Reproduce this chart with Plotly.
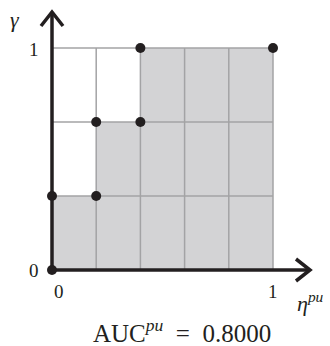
import plotly.graph_objects as go

# ROC-like step curve vertices
eta = [0, 0, 0.2, 0.2, 0.4, 0.4, 1.0]
gamma = [0, 1/3, 1/3, 2/3, 2/3, 1.0, 1.0]
grid_x = [0.2, 0.4, 0.6, 0.8, 1.0]
grid_y = [1/3, 2/3, 1.0]
auc_value = 0.8000

W, H = 330, 346
# pixel mapping: x 0->52, 1->273 ; y 0->270, 1->48
sx, sy = 221.0, 222.0

dark = "#231f20"
gridc = "#a3a3a5"
fillc = "#d3d3d5"
font = "Liberation Serif"

fig = go.Figure()

# filled area under the step curve
fig.add_trace(go.Scatter(x=eta, y=gamma, mode="lines", line=dict(width=0, color=fillc),
                         fill="tozeroy", fillcolor=fillc, hoverinfo="skip"))

# grid lines
for gx in grid_x:
    fig.add_trace(go.Scatter(x=[gx, gx], y=[0, 1], mode="lines",
                             line=dict(color=gridc, width=1.5), hoverinfo="skip"))
for gy in grid_y:
    fig.add_trace(go.Scatter(x=[0, 1], y=[gy, gy], mode="lines",
                             line=dict(color=gridc, width=1.5), hoverinfo="skip"))

# axes with arrows (decoration)
ax_tip_y = (270 - 12) / sy
ax_tip_x = (310 - 52) / sx
along, perp = 14, 11
fig.add_trace(go.Scatter(x=[0, 0], y=[0, ax_tip_y], mode="lines",
                         line=dict(color=dark, width=3.5), hoverinfo="skip"))
fig.add_trace(go.Scatter(x=[-perp / sx, 0, perp / sx],
                         y=[ax_tip_y - along / sy, ax_tip_y, ax_tip_y - along / sy],
                         mode="lines", line=dict(color=dark, width=3.5), hoverinfo="skip"))
fig.add_trace(go.Scatter(x=[0, ax_tip_x], y=[0, 0], mode="lines",
                         line=dict(color=dark, width=3.5), hoverinfo="skip"))
fig.add_trace(go.Scatter(x=[ax_tip_x - along / sx, ax_tip_x, ax_tip_x - along / sx],
                         y=[perp / sy, 0, -perp / sy],
                         mode="lines", line=dict(color=dark, width=3.5), hoverinfo="skip"))

# vertex markers
fig.add_trace(go.Scatter(x=eta, y=gamma, mode="markers",
                         marker=dict(color=dark, size=10), hoverinfo="skip"))

def px2x(p):
    return (p - 52) / sx

def py2y(p):
    return (270 - p) / sy

nb = "&nbsp;"
ann = [
    dict(x=px2x(15), y=py2y(19), text="<i>γ</i>", size=22, xa="center"),
    dict(x=px2x(34), y=py2y(49), text="1", size=19, xa="center"),
    dict(x=px2x(34), y=py2y(270), text="0", size=19, xa="center"),
    dict(x=px2x(59), y=py2y(291), text="0", size=19, xa="center"),
    dict(x=px2x(273), y=py2y(291), text="1", size=19, xa="center"),
    dict(x=px2x(295), y=py2y(302), text="<i>η</i><sup><i>pu</i></sup>", size=22, xa="left"),
    dict(x=px2x(182), y=py2y(331),
         text="AUC<sup><i>pu</i></sup>" + nb * 2 + "=" + nb * 2 + "%.4f" % auc_value,
         size=25, xa="center"),
]
for a in ann:
    fig.add_annotation(x=a["x"], y=a["y"], xref="x", yref="y", text=a["text"], showarrow=False,
                       font=dict(family=font, size=a["size"], color=dark),
                       xanchor=a["xa"], yanchor="middle")

fig.update_layout(
    width=W, height=H, margin=dict(l=0, r=0, t=0, b=0),
    paper_bgcolor="white", plot_bgcolor="white", showlegend=False,
    xaxis=dict(range=[-52 / sx, (W - 52) / sx], visible=False, fixedrange=True),
    yaxis=dict(range=[(270 - H) / sy, 270 / sy], visible=False, fixedrange=True),
)

fig.write_html("out.html", config={"displayModeBar": False},
               post_script="document.body.style.margin='0';document.body.style.overflow='hidden';")
